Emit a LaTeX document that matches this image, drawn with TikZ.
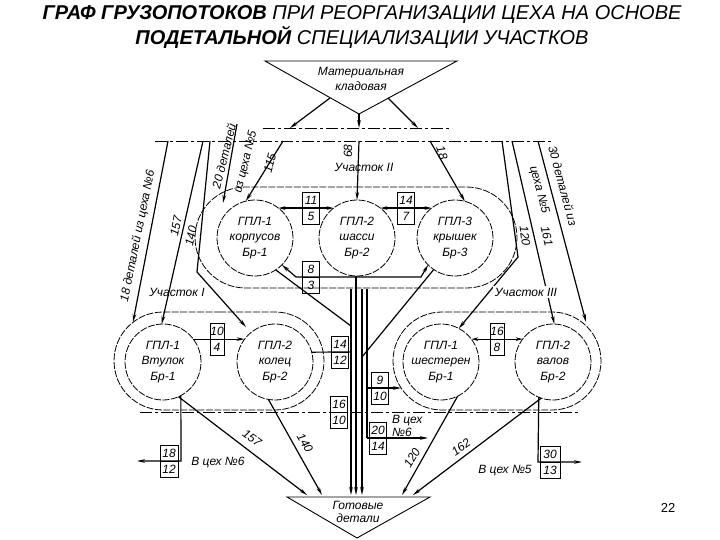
\documentclass[tikz,border=0pt]{standalone}
\usepackage{fontspec}
\setmainfont{Liberation Sans}
\usetikzlibrary{arrows.meta,calc,shapes.misc}
\newcommand\fracbx[5][17]{%
  \node[bx,minimum width=#1pt] (#2) at (#3) {};
  \draw[bxl] (#2.west) -- (#2.east);
  \node[nlab] at ($(#2.center)+(0,-8)$) {#4};
  \node[nlab] at ($(#2.center)+(0,8)$) {#5};
}
\begin{document}
\begin{tikzpicture}[x=1pt,y=-1pt,
  every node/.style={inner sep=0pt,outer sep=0pt},
  fl/.style={line width=1.2pt,-{Stealth[length=8pt,width=3.6pt]}},
  fln/.style={line width=1.2pt},
  fboth/.style={line width=1.2pt,{Stealth[length=7pt,width=3.6pt]}-{Stealth[length=7pt,width=3.6pt]}},
  chainl/.style={line width=0.8pt,dash pattern=on 12pt off 3pt on 3pt off 3pt},
  outl/.style={line width=0.8pt,dash pattern=on 7pt off 1.5pt},
  gpl/.style={circle,draw,outl,minimum size=76pt},
  stad/.style={rounded rectangle,draw,outl},
  ctext/.style={align=center,font=\fontsize{12}{15.5}\selectfont\itshape},
  lab/.style={font=\fontsize{12}{14}\selectfont\itshape},
  wlab/.style={lab,fill=white,inner sep=1.5pt},
  nlab/.style={font=\fontsize{12}{14}\selectfont\itshape},
  bx/.style={draw,line width=0.9pt,minimum width=17pt,minimum height=32pt},
  bxl/.style={line width=0.9pt},
  tri/.style={line width=0.9pt},
]
\useasboundingbox (0,0) rectangle (720,540);

% title
\node[anchor=base,font=\fontsize{20}{24}\selectfont\itshape] (t1) at (362,20) {\textbf{ГРАФ ГРУЗОПОТОКОВ} ПРИ РЕОРГАНИЗАЦИИ ЦЕХА НА ОСНОВЕ};
\node[anchor=base,font=\fontsize{20}{24}\selectfont\itshape] (t2) at (362,45) {\textbf{ПОДЕТАЛЬНОЙ} СПЕЦИАЛИЗАЦИИ УЧАСТКОВ};
\node[font=\fontsize{13}{15}\selectfont] (pg) at (668,508) {22};

% top triangle
\coordinate (mtL) at (265,61); \coordinate (mtR) at (457,61); \coordinate (mt) at (359,114);
\draw[tri] (mtL) -- (mtR) -- (mt) -- cycle;
\node[ctext] (mtx) at (361,79) {Материальная\\кладовая};
\coordinate (ms1) at (330,98); \coordinate (ms2) at (388,98);
\coordinate (c1a) at (290,128); \coordinate (c1b) at (359,128); \coordinate (c1c) at (418,128);
\draw[chainl] (263,128) -- (452,128);
\draw[fl] (ms1) -- (c1a);
\draw[fl] (mt) -- (c1b);
\draw[fl] (ms2) -- (c1c);

% second chain line
\draw[chainl] (155,141) -- (552,141);

% section II
\node[stad,minimum width=322pt,minimum height=101pt] (s2) at (356,237.5) {};
\node[gpl] (k1) at (255,238) {}; \node[ctext] at (k1) {ГПЛ-1\\корпусов\\Бр-1};
\node[gpl] (k2) at (357,238) {}; \node[ctext] at (k2) {ГПЛ-2\\шасси\\Бр-2};
\node[gpl] (k3) at (455,238) {}; \node[ctext] at (k3) {ГПЛ-3\\крышек\\Бр-3};
\node[wlab] (u2) at (364,167) {Участок II};

\draw[fl] (283,141) -- (k1.104);
\draw[fl] (359,141) -- (k2.north);
\draw[fl] (430,141) -- (k3.75);
\node[lab,rotate=75] (l115) at (270,163) {115};
\node[lab,rotate=90] (l68) at (348,151) {68};
\node[lab,rotate=-72] (l18) at (442,153) {18};

\fracbx{b115}{311,208}{11}{5}
\fracbx{b147}{406,208}{14}{7}
\draw[fboth] (k1.52) -- (k2.128);
\draw[fboth] (k2.52) -- (k3.128);

% 8/3 distribution
\coordinate (j2) at (357,277);
\fracbx{b83}{311,277}{8}{3}
\draw[fl] (j2) -- (296,277) -- (k1.-45);
\draw[fl] (j2) -- (421,277) -- (k3.-135);

% 20 details from shop 5
\coordinate (in20) at (237,124);
\draw[fl] (in20) -- (223,203);
\node[lab,rotate=76] (l20a) at (224,156) {20 деталей};
\node[lab,rotate=76] (l20b) at (246,162) {из цеха №5};

% section I
\node[stad,minimum width=210pt,minimum height=98pt] (s1) at (219,361) {};
\node[gpl] (v1) at (163,362) {}; \node[ctext] at (v1) {ГПЛ-1\\Втулок\\Бр-1};
\node[gpl] (v2) at (275,362) {}; \node[ctext] at (v2) {ГПЛ-2\\колец\\Бр-2};
\node[wlab] (u1) at (177,292) {Участок I};
\fracbx[14]{b104}{217,339}{10}{4}
\draw[fl] (v1.37) -- (v2.143);

\draw[fl] (168,141) -- (133,322);
\draw[fl] (203,141) -- (v1.92);
\draw[fl] (210,141) -- (197,272) -- (246,327);
\node[lab,rotate=78.5] (l18d) at (138,236) {18 деталей из цеха №6};
\node[lab,rotate=78] (l157) at (176,226) {157};
\node[lab,rotate=78] (l140) at (191,236) {140};

% section III
\node[stad,minimum width=208pt,minimum height=98pt] (s3) at (497,361) {};
\node[gpl] (g1) at (441,362) {}; \node[ctext] at (g1) {ГПЛ-1\\шестерен\\Бр-1};
\node[gpl] (g2) at (553,362) {}; \node[ctext] at (g2) {ГПЛ-2\\валов\\Бр-2};
\fracbx[14]{b168}{497,339}{16}{8}
\draw[fboth] (g1.37) -- (g2.143);

\draw[fl] (502,141) -- (518,257) -- (g1.62);
\draw[fl] (512,141) -- (g2.88);
\draw[fl] (538,141) -- (586,322);
\node[wlab] (u3) at (526,292) {Участок III};
\node[lab,rotate=-82] (l120) at (525,236) {120};
\node[lab,rotate=-77] (l161) at (547,236) {161};
\node[lab,rotate=-75] (l30a) at (563,186) {30 деталей из};
\node[lab,rotate=-75] (l30b) at (539,190) {цеха №5};

% chain line below sections
\draw[chainl] (140,412) -- (580,412);

% central bundle
\coordinate (ba) at (351,495); \coordinate (bb) at (356,495);
\coordinate (bc) at (362,495); \coordinate (bd) at (367,495);
\draw[fl] (351,289) -- (ba);
\draw[fl] (j2) -| (bb);
\draw[fl] (362,289) -- (bc);
\draw[fln] (367,289) -- (367,438);
\draw[fln] (k1.-57) -- (351,326);
\draw[fln] (k3.-124) -- (362,357);

\fracbx{b1412}{340,352}{14}{12}
\draw[fln] (v2.15) -- (351,352);
\fracbx{b1610}{339,412}{16}{10}
\fracbx{b910}{380,388}{9}{10}
\draw[fl] (367,388) -- (401,388);
\fracbx{b2014}{378,438}{20}{14}
\draw[fl] (367,438) -- (428,438);
\node[lab,anchor=west] (c6a) at (392,421) {В цех};
\node[lab,anchor=west] (c6b) at (392,432) {№6};

% outputs to other shops
\draw[fl] (v1.-62) -- (181,461) -- (137,461);
\fracbx[18]{b1812}{169,461}{18}{12}
\node[lab] (c6) at (218,463) {В цех №6};
\draw[fl] (g2.-112) -- (538,462) -- (582,462);
\fracbx[20]{b3013}{550,462}{30}{13}
\node[lab] (c5) at (505,471) {В цех №5};

% bottom triangle
\coordinate (gtL) at (287,497); \coordinate (gtR) at (430,497); \coordinate (gt) at (357,538);
\draw[tri] (gtL) -- (gtR) -- (gt) -- cycle;
\node[ctext,font=\fontsize{12}{13}\selectfont\itshape] (gtx) at (358,512) {Готовые\\детали};

\draw[fl] (v1.-66) -- (307,495);
\draw[fl] (v2.-100) -- (322,495);
\draw[fl] (g1.-64) -- (402,495);
\draw[fl] (g2.-108) -- (413,495);
\node[lab,rotate=-36] (b157) at (252,438) {157};
\node[lab,rotate=-60] (b140) at (305,443) {140};
\node[lab,rotate=59] (b120) at (412,458) {120};
\node[lab,rotate=36] (b162) at (461,447) {162};
\end{tikzpicture}
\end{document}
